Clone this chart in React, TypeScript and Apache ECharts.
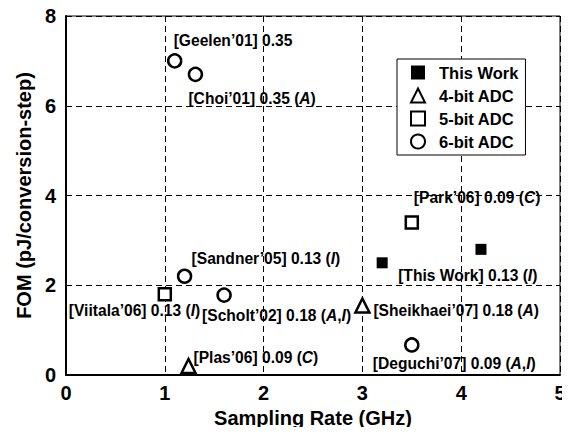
import React, { useEffect, useRef } from "react";
import * as echarts from "echarts";

// ---- Data ----
const xTicks = [0, 1, 2, 3, 4, 5];
const yTicks = [0, 2, 4, 6, 8];

const thisWorkPts = [
  [3.2, 2.5],
  [4.2, 2.8],
];
const thisWorkLabels = ["[This Work] 0.13 (I)", ""];

const bit4Pts = [
  [1.24, 0.2],
  [3.0, 1.55],
];
const bit4Labels = ["[Plas’06] 0.09 (C)", "[Sheikhaei’07] 0.18 (A)"];

const bit5Pts = [
  [1.0, 1.8],
  [3.5, 3.4],
];
const bit5Labels = ["[Viitala’06] 0.13 (I)", "[Park’06] 0.09 (C)"];

const bit6Pts = [
  [1.1, 7.0],
  [1.31, 6.7],
  [1.2, 2.2],
  [1.6, 1.78],
  [3.5, 0.67],
];
const bit6Labels = [
  "[Geelen’01] 0.35",
  "[Choi’01] 0.35 (A)",
  "[Sandner’05] 0.13 (I)",
  "[Scholt’02] 0.18 (A,I)",
  "[Deguchi’07] 0.09 (A,I)",
];

// ---- Label placement (pixels relative to the mark centre) ----
const thisWorkOffsets = [[16, 13], [0, 0]];
const bit4Offsets = [[5, -9], [11, 5]];
const bit5Offsets = [[-96, 16], [2, -25]];
const bit6Offsets = [[-1, -20], [-7, 24], [7, -18], [-22, 20], [-39, 19]];

const FONT = 'Arial, "Liberation Sans", Helvetica, sans-serif';
const LABEL_SIZE = 15.6;

function toRich(s: string): string {
  return s.replace(/\(([^)]*)\)$/, (_m, inner: string) =>
    "(" + inner.split(",").map((x) => `{i|${x}}`).join(",") + ")"
  );
}

function buildData(pts: number[][], labels: string[], offsets: number[][]) {
  return pts.map((p, i) => ({
    value: p,
    label: {
      show: labels[i] !== "",
      formatter: toRich(labels[i]),
      position: "inside",
      align: "left",
      verticalAlign: "middle",
      offset: offsets[i],
    },
  }));
}

const labelStyle = {
  color: "#000",
  fontFamily: FONT,
  fontWeight: "bold",
  fontSize: LABEL_SIZE,
  rich: {
    i: {
      fontStyle: "italic",
      fontWeight: "bold",
      fontFamily: FONT,
      fontSize: LABEL_SIZE,
      color: "#000",
    },
  },
};

export default function App() {
  const ref = useRef<HTMLDivElement>(null);
  useEffect(() => {
    if (!ref.current) return;
    const chart = echarts.init(ref.current, null, { renderer: "svg" });
    const hollow = {
      color: "#fff",
      borderColor: "#000",
      borderWidth: 2.5,
      opacity: 1,
    };
    chart.setOption({
      animation: false,
      backgroundColor: "#fff",
      textStyle: { fontFamily: FONT },
      grid: {
        left: 66,
        right: 10,
        top: 16,
        bottom: 60,
        show: true,
        borderColor: "#000",
        borderWidth: 1,
        backgroundColor: "transparent",
      },
      xAxis: {
        type: "value",
        min: xTicks[0],
        max: xTicks[xTicks.length - 1],
        interval: 1,
        name: "Sampling Rate (GHz)",
        nameLocation: "middle",
        nameGap: 15,
        nameTextStyle: { fontSize: 20, fontWeight: "bold", color: "#000", fontFamily: FONT },
        axisLine: { show: true, onZero: false, lineStyle: { color: "#000", width: 2 } },
        axisTick: { show: false },
        axisLabel: { fontSize: 20, fontWeight: "bold", color: "#000", margin: 8, fontFamily: FONT },
        splitLine: { show: true, lineStyle: { color: "#000", width: 1, type: [6, 4] } },
      },
      yAxis: {
        type: "value",
        min: yTicks[0],
        max: yTicks[yTicks.length - 1],
        interval: 2,
        name: "FOM (pJ/conversion-step)",
        nameLocation: "middle",
        nameGap: 30,
        nameTextStyle: { fontSize: 20, fontWeight: "bold", color: "#000", fontFamily: FONT },
        axisLine: { show: true, onZero: false, lineStyle: { color: "#000", width: 2 } },
        axisTick: { show: false },
        axisLabel: { fontSize: 20, fontWeight: "bold", color: "#000", margin: 10, fontFamily: FONT },
        splitLine: { show: true, lineStyle: { color: "#000", width: 1, type: [6, 4] } },
      },
      legend: {
        orient: "vertical",
        left: 397,
        top: 59,
        padding: [5, 7, 5, 13],
        itemGap: 6,
        itemWidth: 14,
        itemHeight: 14,
        backgroundColor: "#fff",
        borderColor: "#000",
        borderWidth: 1,
        borderRadius: 0,
        textStyle: {
          fontSize: 16.5,
          fontWeight: "bold",
          color: "#000",
          fontFamily: FONT,
          padding: [0, 0, 0, 9],
        },
        data: ["This Work", "4-bit ADC", "5-bit ADC", "6-bit ADC"],
      },
      series: [
        {
          name: "This Work",
          type: "scatter",
          symbol: "rect",
          symbolSize: 11,
          itemStyle: { color: "#000", opacity: 1 },
          label: labelStyle,
          data: buildData(thisWorkPts, thisWorkLabels, thisWorkOffsets),
        },
        {
          name: "4-bit ADC",
          type: "scatter",
          symbol: "triangle",
          symbolSize: 14,
          itemStyle: hollow,
          label: labelStyle,
          data: buildData(bit4Pts, bit4Labels, bit4Offsets),
        },
        {
          name: "5-bit ADC",
          type: "scatter",
          symbol: "rect",
          symbolSize: 12,
          itemStyle: hollow,
          label: labelStyle,
          data: buildData(bit5Pts, bit5Labels, bit5Offsets),
        },
        {
          name: "6-bit ADC",
          type: "scatter",
          symbol: "circle",
          symbolSize: 13,
          itemStyle: hollow,
          label: labelStyle,
          data: buildData(bit6Pts, bit6Labels, bit6Offsets),
        },
      ],
    });
    return () => chart.dispose();
  }, []);
  return <div ref={ref} style={{ width: 570, height: 435, margin: -8 }} />;
}
